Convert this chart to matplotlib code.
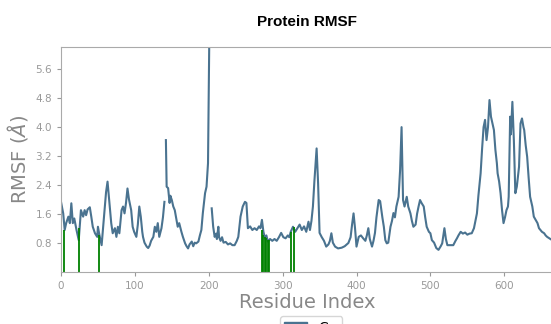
import numpy as np
import matplotlib
matplotlib.use("Agg")
import matplotlib.pyplot as plt
from matplotlib.patches import Patch

nan = np.nan

# residue index / rmsf pairs (nan = gap in the trace)
residue = [0, 3, 5, 7, 10, 12, 14, 16, 18, 21, 24, 27, 30, 32, 34, 36, 39, 41, 43, 46,
           49, 50, 52, 55, 59, 61, 63, 66, 68, 70, 73, 75, 77, 79, 82, 84, 86, 88, 90, 92,
           95, 97, 99, 102, 104, 106, 108, 110, 111, 113, 116, 118, 120, 122, 125, 127, 129, 131, 133, 136,
           138, 140, 141, 142, 143, 145, 147, 148, 150, 152, 154, 156, 158, 160, 163, 165, 168, 170, 172, 174,
           177, 179, 181, 183, 186, 188, 190, 192, 195, 197, 199, 201, 202, 204, 206, 208, 210, 211, 213, 214,
           216, 218, 220, 223, 226, 229, 232, 235, 238, 240, 243, 246, 249, 251, 253, 256, 259, 262, 265, 268,
           270, 272, 274, 276, 278, 280, 283, 286, 289, 292, 295, 298, 301, 304, 307, 309, 311, 314, 317, 320,
           323, 326, 329, 332, 335, 337, 339, 341, 343, 346, 348, 350, 353, 356, 359, 362, 364, 366, 368, 371,
           375, 380, 384, 389, 392, 394, 396, 398, 400, 403, 406, 409, 412, 414, 416, 418, 421, 423, 425, 427,
           430, 432, 435, 437, 439, 441, 443, 446, 448, 450, 452, 454, 457, 459, 461, 463, 465, 468, 470, 473,
           475, 477, 480, 482, 484, 486, 488, 491, 493, 495, 498, 500, 502, 505, 508, 511, 514, 516, 519, 521,
           523, 527, 531, 534, 536, 538, 541, 544, 547, 550, 553, 556, 559, 561, 563, 565, 568, 570, 572, 574,
           576, 578, 580, 582, 584, 586, 588, 590, 591, 593, 595, 597, 599, 601, 603, 605, 606, 608, 609, 611,
           613, 615, 617, 620, 622, 624, 626, 627, 629, 631, 633, 635, 638, 640, 642, 645, 647, 649, 651, 654,
           656, 658, 661, 664, 667]
rmsf = [1.93, 1.61, 1.15, 1.34, 1.52, 1.34, 1.89, 1.34, 1.47, 1.15, 0.87, 1.70, 1.52, 1.70, 1.56, 1.72, 1.78, 1.52, 1.24, 1.06,
        0.96, 1.24, 1.01, 0.73, 1.70, 2.20, 2.49, 1.80, 1.34, 1.06, 1.20, 0.96, 1.24, 1.06, 1.70, 1.80, 1.61, 1.90, 2.30, 2.00,
        1.70, 1.24, 1.10, 0.96, 1.30, 1.80, 1.52, 1.10, 0.96, 0.80, 0.69, 0.65, 0.72, 0.85, 0.96, 1.24, 1.10, 1.34, 0.96, 1.20,
        1.50, 1.93, nan, 3.64, 2.35, 2.31, 1.90, 2.10, 1.98, 1.80, 1.70, 1.47, 1.24, 1.34, 1.10, 0.96, 0.78, 0.70, 0.64, 0.75,
        0.83, 0.70, 0.80, 0.78, 0.83, 1.00, 1.15, 1.62, 2.17, 2.35, 3.00, 7.00, nan, 1.75, 1.24, 0.96, 1.05, 0.90, 1.24, 0.95,
        0.85, 0.95, 0.80, 0.82, 0.75, 0.78, 0.73, 0.73, 0.85, 0.96, 1.52, 1.80, 1.93, 1.90, 1.20, 1.25, 1.15, 1.20, 1.15, 1.25,
        1.20, 1.43, 1.10, 0.93, 1.00, 0.83, 0.90, 0.85, 0.90, 0.85, 0.95, 1.07, 0.95, 0.92, 1.00, 0.95, 1.10, 1.24, 1.10, 1.20,
        1.30, 1.15, 1.25, 1.10, 1.38, 1.15, 1.40, 1.80, 2.50, 3.41, 2.45, 1.07, 0.95, 0.85, 0.69, 0.75, 0.85, 1.06, 0.80, 0.69,
        0.64, 0.66, 0.70, 0.79, 0.95, 1.30, 1.61, 1.20, 0.69, 0.96, 1.00, 0.92, 0.85, 1.00, 1.20, 0.90, 0.69, 0.85, 1.07, 1.50,
        1.98, 1.95, 1.50, 1.24, 0.87, 0.78, 0.80, 1.24, 1.40, 1.62, 1.50, 1.80, 2.07, 2.81, 4.00, 1.98, 1.80, 2.07, 1.80, 1.61,
        1.40, 1.24, 1.30, 1.60, 1.80, 1.98, 1.90, 1.80, 1.50, 1.24, 1.10, 1.06, 0.87, 0.80, 0.65, 0.60, 0.70, 0.78, 1.20, 0.90,
        0.73, 0.73, 0.73, 0.85, 0.92, 1.00, 1.10, 1.05, 1.08, 1.02, 1.05, 1.06, 1.20, 1.40, 1.61, 2.10, 2.72, 3.40, 4.00, 4.20,
        3.64, 4.00, 4.75, 4.29, 4.10, 3.92, 3.37, 3.00, 2.72, 2.50, 2.17, 1.70, 1.34, 1.50, 1.70, 1.80, 2.07, 4.29, 3.80, 4.70,
        3.64, 2.17, 2.35, 2.90, 4.10, 4.24, 4.00, 3.92, 3.50, 3.18, 2.60, 2.07, 1.80, 1.52, 1.45, 1.34, 1.20, 1.15, 1.10, 1.06,
        1.00, 0.96, 0.92, 0.88, 0.90]

# highlighted residues (green sticks) and their heights
mark_res = [4, 25, 52, 272, 274, 276, 278, 280, 282, 311, 316]
mark_val = [1.15, 1.2, 1.01, 1.15, 1.0, 0.95, 0.92, 0.88, 0.86, 1.1, 1.24]

line_col = "#4a7390"
grey = "#999999"

fig = plt.figure(figsize=(5.51, 3.24), dpi=100)
ax = fig.add_axes([0.1107, 0.162, 0.8943, 0.693])

ax.plot(residue, rmsf, color=line_col, lw=1.5)
ax.vlines(mark_res, 0, mark_val, color="green", lw=1.3)

ax.set_xlim(0, 667)
ax.set_ylim(0, 6.22)
ax.set_xticks([0, 100, 200, 300, 400, 500, 600])
ax.set_yticks([0.8, 1.6, 2.4, 3.2, 4.0, 4.8, 5.6])
ax.tick_params(colors=grey, labelsize=7.5, length=3, width=0.8)
for s in ax.spines.values():
    s.set_color("#aaaaaa")
ax.spines["right"].set_visible(False)

ax.set_xlabel("Residue Index", fontsize=14, color="#888888", labelpad=2)
ax.set_ylabel(r"RMSF ($\AA$)", fontsize=14, color="#888888", labelpad=4)
ax.set_title("Protein RMSF", fontsize=11, fontweight="bold",
             family="Liberation Sans", pad=15)

fig.legend(handles=[Patch(facecolor=line_col, edgecolor=line_col, label=r"C$\alpha$")],
           loc="upper center", bbox_to_anchor=(0.565, 0.045), fontsize=10,
           handlelength=1.6, borderpad=0.3)

fig.savefig("out.png", dpi=100)
